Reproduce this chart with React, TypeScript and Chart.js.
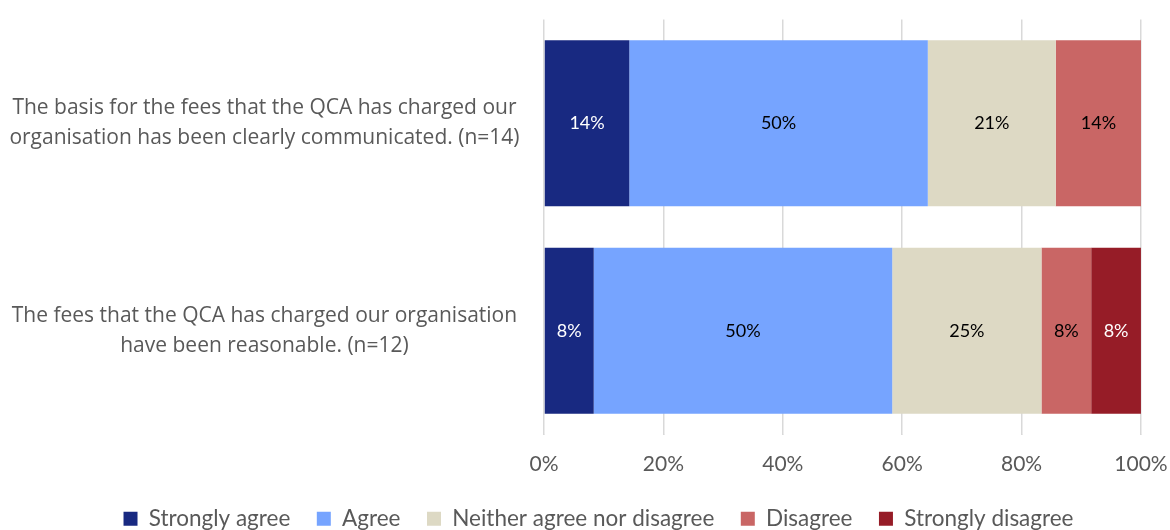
import React, { useEffect, useRef } from "react";
import { Chart, registerables } from "chart.js";

Chart.register(...registerables);

const categories: string[][] = [
  ["The basis for the fees that the QCA has charged our", "organisation has been clearly communicated. (n=14)"],
  ["The fees that the QCA has charged our organisation", "have been reasonable. (n=12)"],
];
const seriesNames = ["Strongly agree", "Agree", "Neither agree nor disagree", "Disagree", "Strongly disagree"];
const stronglyAgree = [14.29, 8.33];
const agree = [50, 50];
const neither = [21.43, 25];
const disagree = [14.29, 8.33];
const stronglyDisagree = [0, 8.33];
const xTicks = [0, 20, 40, 60, 80, 100];

const colors = ["#182981", "#76A4FF", "#DDD9C4", "#C96665", "#961C27"];
const labelColors = ["#FFFFFF", "#000000", "#000000", "#000000", "#FFFFFF"];

const NARROW = 'Lato, sans-serif';
const WIDE = '"Open Sans", sans-serif';

const barLabels = {
  id: "barLabels",
  afterDatasetsDraw(chart: any) {
    const ctx = chart.ctx;
    ctx.save();
    ctx.font = "18px " + NARROW;
    ctx.textAlign = "center";
    ctx.textBaseline = "middle";
    chart.data.datasets.forEach((ds: any, di: number) => {
      const meta = chart.getDatasetMeta(di);
      meta.data.forEach((el: any, i: number) => {
        const v = ds.data[i];
        if (!v) return;
        const x = (el.x + el.base) / 2;
        ctx.fillStyle = labelColors[di];
        ctx.fillText(Math.round(v) + "%", x, el.y);
      });
    });
    ctx.restore();
  },
};

const legendShift = {
  id: "legendShift",
  afterLayout(chart: any) {
    const lg = chart.legend;
    if (lg) {
      lg.left += 28;
      lg.right += 28;
    }
  },
};

export default function App() {
  const ref = useRef<HTMLCanvasElement>(null);
  useEffect(() => {
    let chart: any = null;
    let cancelled = false;
    const build = () => {
      if (cancelled || !ref.current) return;
      const data = [stronglyAgree, agree, neither, disagree, stronglyDisagree];
      chart = new Chart(ref.current, {
        type: "bar",
        data: {
          labels: categories,
          datasets: seriesNames.map((name, i) => ({
            label: name,
            data: data[i],
            backgroundColor: colors[i],
            borderWidth: 0,
            categoryPercentage: 0.8,
            barPercentage: 1,
          })),
        },
        options: {
          indexAxis: "y",
          animation: false,
          responsive: false,
          maintainAspectRatio: false,
          layout: { padding: { left: 0, right: 29, top: 19.5, bottom: -10 } },
          scales: {
            x: {
              stacked: true,
              min: 0,
              max: 100,
              afterBuildTicks: (axis: any) => {
                axis.ticks = xTicks.map((v) => ({ value: v }));
              },
              afterFit: (axis: any) => {
                axis.height = 46.5;
                axis.paddingLeft = 0;
                axis.paddingRight = 0;
              },
              ticks: {
                callback: (v: any) => v + "%",
                color: "#595959",
                font: { family: NARROW, size: 21, lineHeight: 1 },
                padding: 19,
              },
              grid: { color: "#D9D9D9", lineWidth: 1.5, tickLength: 0 },
              border: { display: false },
            },
            y: {
              stacked: true,
              afterFit: (axis: any) => {
                axis.width = 544;
                axis.paddingTop = 0;
                axis.paddingBottom = 0;
              },
              ticks: {
                crossAlign: "center",
                color: "#595959",
                font: { family: WIDE, size: 21, lineHeight: 1.43 },
                padding: 16.5,
              },
              grid: { display: false },
              border: { display: false },
            },
          },
          plugins: {
            legend: {
              position: "bottom",
              labels: {
                boxWidth: 14,
                boxHeight: 14,
                padding: 26.5,
                color: "#595959",
                font: { family: NARROW, size: 22.5 },
              },
            },
            tooltip: { enabled: false },
          },
        },
        plugins: [barLabels, legendShift],
      });
    };
    const fonts = ["18px Lato", "21px Lato", "22px Lato", '21px "Open Sans"'];
    Promise.all(fonts.map((f) => (document as any).fonts.load(f).catch(() => null)))
      .then(build, build);
    return () => {
      cancelled = true;
      if (chart) chart.destroy();
    };
  }, []);
  return (
    <div style={{ position: "fixed", left: 0, top: 0, width: 1170, height: 530, background: "#fff" }}>
      <canvas ref={ref} width={1170} height={530} style={{ width: 1170, height: 530 }} />
    </div>
  );
}
